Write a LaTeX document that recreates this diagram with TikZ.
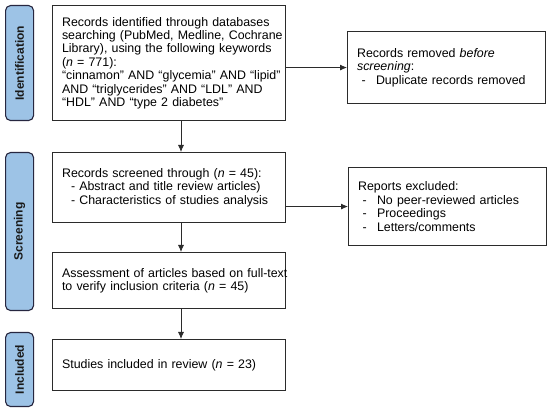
\documentclass[tikz,border=0pt]{standalone}
\usepackage{fontspec}
\setmainfont{Liberation Sans}
\usetikzlibrary{arrows.meta}
\definecolor{tabblue}{HTML}{9DC3E6}
\definecolor{lineclr}{HTML}{2B2B2B}
\newcommand{\bul}{\hspace*{4.5pt}\makebox[14.5pt][l]{-}}
\begin{document}
\begin{tikzpicture}[x=1pt,y=-1pt,
  box/.style={draw=lineclr,line width=1.1pt,anchor=north west,inner xsep=0pt,inner ysep=0pt,
    align=left,font=\fontsize{12.4}{13.4}\selectfont,text=black,
    execute at begin node={\leftskip=9.5pt\hyphenpenalty=10000\exhyphenpenalty=10000}},
  tab/.style={draw=lineclr!90!blue,fill=tabblue,line width=1.1pt,rounded corners=5pt,anchor=north west,
    inner sep=0pt},
  tablabel/.style={rotate=90,font=\fontsize{12}{14}\selectfont\bfseries,text=black!90},
  arr/.style={draw=lineclr,line width=0.8pt,-{Latex[length=7pt,width=6pt]}}]
\useasboundingbox (0,0) rectangle (550,411);
\fill[white] (0,0) rectangle (550,411);
% side tabs
\node[tab,minimum width=28pt,minimum height=115pt] (t1) at (5,5) {};
\node[tablabel] (t1l) at (t1.center) {Identification};
\node[tab,minimum width=28pt,minimum height=158pt] (t2) at (5,152) {};
\node[tablabel] (t2l) at (t2.center) {Screening};
\node[tab,minimum width=28pt,minimum height=74pt] (t3) at (5,332) {};
\node[tablabel] (t3l) at (t3.center) {Included};
% main boxes
\node[box,minimum width=233pt,minimum height=115pt,text width=233pt] (b1) at (52,5)
 {Records identified through databases\\searching (PubMed, Medline, Cochrane\\Library), using the following keywords\\(\textit{n} = 771):\\``cinnamon'' AND ``glycemia'' AND ``lipid''\\AND ``triglycerides'' AND ``LDL'' AND\\``HDL'' AND ``type 2 diabetes''};
\node[box,minimum width=198pt,minimum height=72pt,text width=198pt] (b2) at (347,31)
 {Records removed \textit{before}\\\textit{screening}:\\\bul Duplicate records removed};
\node[box,minimum width=233pt,minimum height=70pt,text width=233pt] (b3) at (52,152)
 {Records screened through (\textit{n} = 45):\\\hspace*{9pt}- Abstract and title review articles)\\\hspace*{9pt}- Characteristics of studies analysis};
\node[box,minimum width=198pt,minimum height=78pt,text width=198pt] (b6) at (348,167)
 {Reports excluded:\\\bul No peer-reviewed articles\\\bul Proceedings\\\bul Letters/comments};
\node[box,minimum width=233pt,minimum height=56pt,text width=233pt] (b4) at (52,252)
 {\mbox{Assessment of articles based on full-text}\\to verify inclusion criteria (\textit{n} = 45)};
\node[box,minimum width=233pt,minimum height=51pt,text width=233pt] (b5) at (52,339)
 {Studies included in review (\textit{n} = 23)};
% arrows
\coordinate (ax) at (181,0);
\draw[arr] (b1.south -| ax) -- (b3.north -| ax);
\draw[arr] (b3.south -| ax) -- (b4.north -| ax);
\draw[arr] (b4.south -| ax) -- (b5.north -| ax);
\draw[arr] (b1.east |- b2.west) -- (b2.west);
\draw[arr] (b3.east |- b6.west) -- (b6.west);
\end{tikzpicture}
\end{document}
